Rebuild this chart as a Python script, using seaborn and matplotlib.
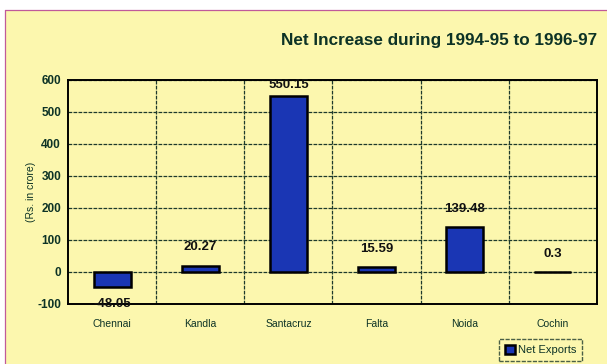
import matplotlib
matplotlib.use("Agg")
import matplotlib.pyplot as plt
import seaborn as sns
import pandas as pd
from matplotlib.patches import Rectangle

# Net export increase by zone
zones = ["Chennai", "Kandla", "Santacruz", "Falta", "Noida", "Cochin"]
net_exports = [-48.05, 20.27, 550.15, 15.59, 139.48, 0.3]
value_labels = ["-48.05", "20.27", "550.15", "15.59", "139.48", "0.3"]
series_name = "Net Exports"
y_ticks = [-100, 0, 100, 200, 300, 400, 500, 600]

bg = "#fcf7ae"
ink = "#0d3326"
bar_blue = "#1a36b4"

sns.set_theme(style="white")
plt.rcParams["font.family"] = ["Liberation Sans", "DejaVu Sans"]

df = pd.DataFrame({"zone": zones, "value": net_exports, "series": series_name})

fig = plt.figure(figsize=(6.07, 3.64), dpi=100)
fig.patch.set_facecolor("white")
# yellow panel with thin magenta border on top and left
fig.patches.append(Rectangle((5 / 607, 0), 1, 1 - 10 / 364, transform=fig.transFigure,
                             facecolor=bg, edgecolor="none", zorder=-2))
fig.add_artist(plt.Line2D([5 / 607, 1], [1 - 10 / 364, 1 - 10 / 364],
                          transform=fig.transFigure, color="#c05a9a", lw=0.9))
fig.add_artist(plt.Line2D([5 / 607, 5 / 607], [0, 1 - 10 / 364],
                          transform=fig.transFigure, color="#c05a9a", lw=0.9))

ax = fig.add_axes([68 / 607, 1 - 304 / 364, (597 - 68) / 607, (304 - 80) / 364])
ax.set_facecolor(bg)

sns.barplot(data=df, x="zone", y="value", hue="series", palette=[bar_blue],
            saturation=1, edgecolor="black", linewidth=1.8, width=0.42,
            ax=ax, zorder=3)

ax.set_ylim(-100, 600)
ax.set_xlim(-0.5, len(zones) - 0.5)
ax.set_yticks(y_ticks)
ax.set_yticklabels([str(t) for t in y_ticks], fontsize=8.5, fontweight="bold", color=ink)
ax.set_xticks(range(len(zones)))
ax.set_xticklabels(zones, fontsize=7.5, color=ink)
ax.tick_params(axis="y", length=0, pad=5)
ax.tick_params(axis="x", length=0, pad=11)
ax.set_xlabel("")
ax.set_ylabel("(Rs. in crore)", fontsize=7.5, color=ink, labelpad=1)

# dashed grid: every 100 across, one line between each zone
for t in y_ticks:
    ax.axhline(t, color="#1d3a2c", lw=0.9, ls=(0, (3, 1)), zorder=1)
for i in range(len(zones) - 1):
    ax.axvline(i + 0.5, color="#1d3a2c", lw=0.9, ls=(0, (3, 1)), zorder=1)
for s in ax.spines.values():
    s.set_visible(True)
    s.set_color("black")
    s.set_linewidth(1.4)

# value labels sit above positive bars (kept inside the frame) and below negative ones
for i, (v, lab) in enumerate(zip(net_exports, value_labels)):
    y = min(v + 57, 583) if v >= 0 else v - 52
    ax.text(i, y, lab, ha="center", va="center", fontsize=9.5, fontweight="bold",
            color="#111111", zorder=5)

fig.text(597 / 607, 1 - 40 / 364, "Net Increase during 1994-95 to 1996-97",
         ha="right", va="center", fontsize=12.3, fontweight="bold", color=ink)

leg = ax.legend(loc="upper right", bbox_to_anchor=(588 / 607, 1 - 333 / 364),
                bbox_transform=fig.transFigure, fontsize=8, frameon=True,
                handlelength=0.9, handleheight=0.9, handletextpad=0.25,
                borderpad=0.55, fancybox=False)
leg.get_frame().set_facecolor(bg)
leg.get_frame().set_edgecolor("#1d3a2c")
leg.get_frame().set_linestyle((0, (3, 1)))
for t in leg.get_texts():
    t.set_color(ink)

fig.savefig("out.png", dpi=100, facecolor=fig.get_facecolor())
